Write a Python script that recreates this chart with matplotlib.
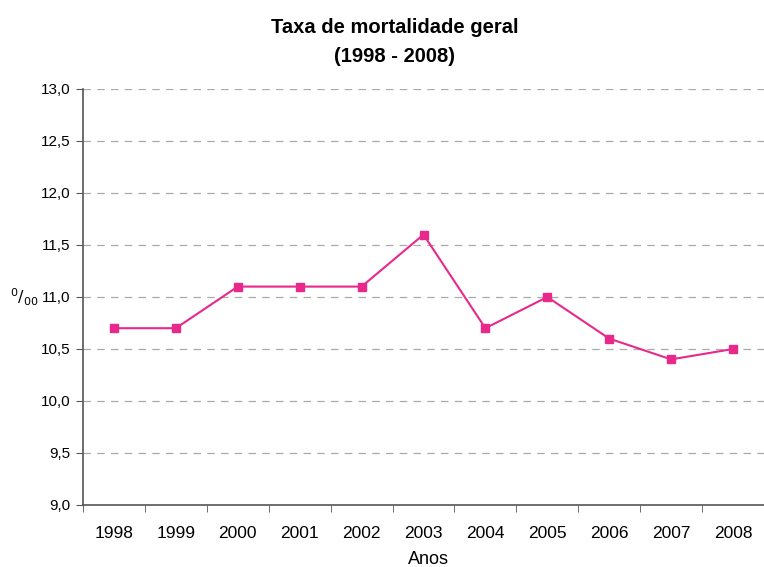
import numpy as np
import matplotlib.pyplot as plt
from matplotlib.ticker import FixedLocator, NullFormatter

plt.rcParams['font.family'] = ['Liberation Sans', 'DejaVu Sans']

anos = ['1998', '1999', '2000', '2001', '2002', '2003', '2004', '2005', '2006', '2007', '2008']
taxa = [10.7, 10.7, 11.1, 11.1, 11.1, 11.6, 10.7, 11.0, 10.6, 10.4, 10.5]
yticks = [9.0, 9.5, 10.0, 10.5, 11.0, 11.5, 12.0, 12.5, 13.0]

fig = plt.figure(figsize=(7.64, 5.67), dpi=100)
ax = fig.add_axes([83/764, 1 - 505/567, 1 - 83/764, (505 - 89)/567])

x = np.arange(len(anos))
ax.plot(x, taxa, color='#E8288A', lw=1.5, marker='s', ms=5.5, zorder=3)

ax.set_xlim(-0.5, len(anos) - 0.5)
ax.set_ylim(9.0, 13.0)
ax.set_yticks(yticks)
ax.set_yticklabels([('%.1f' % v).replace('.', ',') for v in yticks], fontsize=11)
ax.set_xticks(x)
ax.set_xticklabels(anos, fontsize=12.5)
ax.tick_params(axis='x', which='major', length=0, pad=15)
ax.xaxis.set_minor_locator(FixedLocator(np.arange(-0.5, len(anos), 1.0)))
ax.xaxis.set_minor_formatter(NullFormatter())
ax.tick_params(axis='x', which='minor', length=5, color='#555555')
ax.tick_params(axis='y', length=5, color='#555555', pad=4)

for v in yticks[1:]:
    ax.axhline(v, color='#AAAAAA', lw=0.9, ls=(0, (6, 5)), zorder=1)

ax.spines['top'].set_visible(False)
ax.spines['right'].set_visible(False)
ax.spines['left'].set_color('#555555')
ax.spines['bottom'].set_color('#555555')
ax.spines['left'].set_linewidth(1.2)
ax.spines['bottom'].set_linewidth(1.2)

fig.text(428/764, 1 - 560/567, 'Anos', fontsize=13, ha='center', va='center')
fig.text(24/764, 1 - 297/567, r'$^{0}/_{00}$', fontsize=11.5, ha='center', va='center')

fig.text(395/764, 1 - 33/567, 'Taxa de mortalidade geral', fontsize=14.5, fontweight='bold', ha='center', va='baseline')
fig.text(395/764, 1 - 62/567, '(1998 - 2008)', fontsize=14.5, fontweight='bold', ha='center', va='baseline')

fig.savefig('out.png', dpi=100)
